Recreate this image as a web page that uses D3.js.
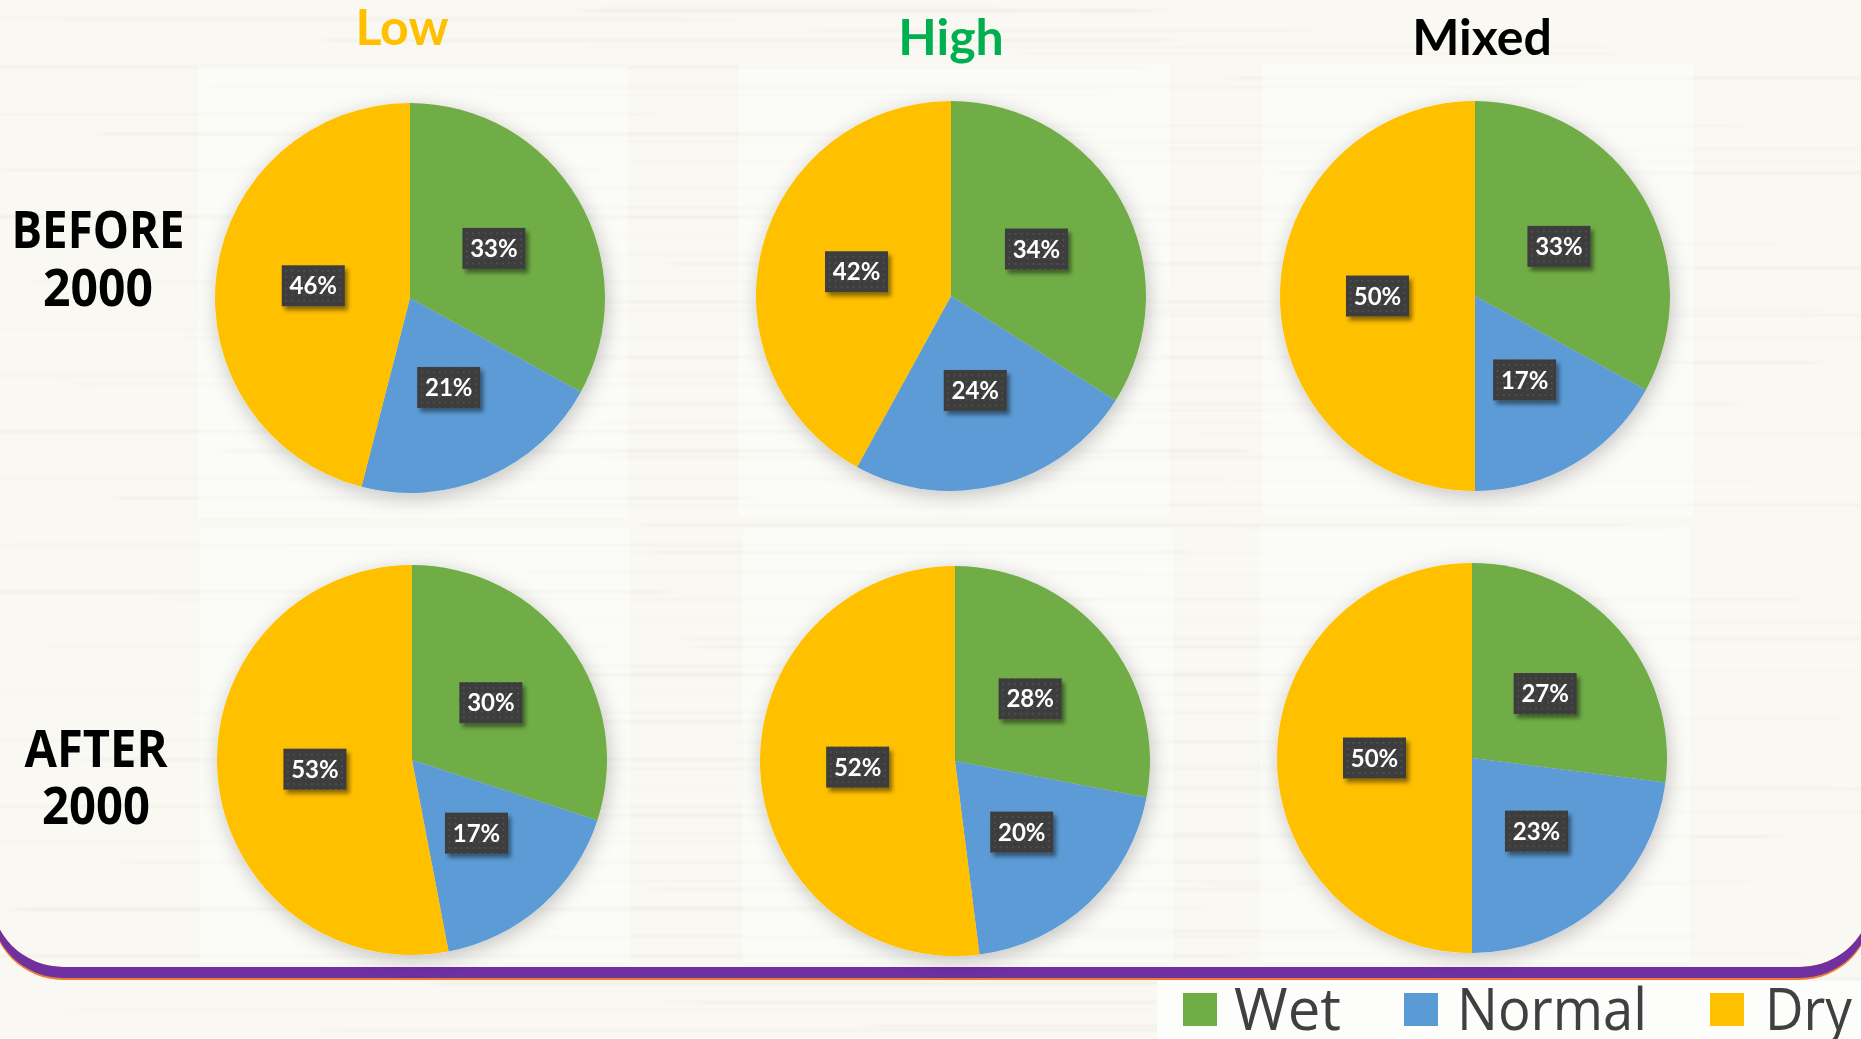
<!DOCTYPE html>
<html>
<head>
<meta charset="utf-8">
<script src="https://cdn.jsdelivr.net/npm/d3@7"></script>
<style>
  html, body { margin: 0; padding: 0; background: #f9f8f3; overflow: hidden; }
  svg { display: block; }
</style>
</head>
<body>
<svg id="chart" width="1861" height="1039"></svg>
<script>
// ---- data -------------------------------------------------------------
const groups = ["Low", "High", "Mixed"];
const groupColors = ["#FFC000", "#00B050", "#000000"];
const periods = [["BEFORE", "2000"], ["AFTER", "2000"]];
const seriesNames = ["Wet", "Normal", "Dry"];
const seriesColors = ["#70AD47", "#5B9BD5", "#FFC000"];
// percentages per group (Low, High, Mixed), ordered Wet, Normal, Dry
const beforeValues = [[33, 21, 46], [34, 24, 42], [33, 17, 50]];
const afterValues  = [[30, 17, 53], [28, 20, 52], [27, 23, 50]];

// ---- layout -----------------------------------------------------------
const W = 1861, H = 1039;
const pieRadius = 195;
const pieCenters = [
  [[410, 298], [951, 296], [1475, 296]],
  [[412, 760], [955, 761], [1472, 758]]
];
const rowLabelX = [98, 96];
const rowLabelBaselines = [[248, 306], [767, 824]];
const rowLabelWidths = [[173, 110], [143, 108]];
const headerX = [402, 951, 1482];
const headerY = [45, 55, 55];

const svg = d3.select("#chart");
const defs = svg.append("defs");

// soft halo under each pie
const pieShadow = defs.append("filter").attr("id", "pieShadow")
  .attr("x", "-25%").attr("y", "-25%").attr("width", "150%").attr("height", "150%");
pieShadow.append("feDropShadow").attr("dx", 2).attr("dy", 5)
  .attr("stdDeviation", 10).attr("flood-color", "#000").attr("flood-opacity", 0.22);

// small shadow under the value tags
const tagShadow = defs.append("filter").attr("id", "tagShadow")
  .attr("x", "-30%").attr("y", "-30%").attr("width", "160%").attr("height", "170%");
tagShadow.append("feDropShadow").attr("dx", 3).attr("dy", 4)
  .attr("stdDeviation", 2.2).attr("flood-color", "#000").attr("flood-opacity", 0.45);

const streakBlur = defs.append("filter").attr("id", "streakBlur")
  .attr("x", "-10%").attr("y", "-10%").attr("width", "120%").attr("height", "120%");
streakBlur.append("feGaussianBlur").attr("stdDeviation", "8 1.2");

// dotted texture for the value tags
const dots = defs.append("pattern").attr("id", "dots")
  .attr("width", 6).attr("height", 6).attr("patternUnits", "userSpaceOnUse");
dots.append("rect").attr("width", 6).attr("height", 6).attr("fill", "#3c3c3c");
dots.append("circle").attr("cx", 3).attr("cy", 3).attr("r", 0.9).attr("fill", "#575757");

// ---- background with faint wood-grain streaks ---------------------------
svg.append("rect").attr("width", W).attr("height", H).attr("fill", "#f9f8f3");
const grain = svg.append("g").attr("filter", "url(#streakBlur)");
for (let i = 0; i < 70; i++) {
  const y = (i * 15.3 + ((i * 37) % 11)) % H;
  const x0 = ((i * 263) % 900) - 200;
  const len = 500 + ((i * 173) % 900);
  grain.append("rect")
    .attr("x", x0).attr("y", y)
    .attr("width", len).attr("height", 1 + (i % 3))
    .attr("fill", i % 4 === 0 ? "#e6e8d6" : "#e9e7dc")
    .attr("opacity", 0.25 + (i % 5) * 0.07);
}
for (let i = 0; i < 45; i++) {
  const y = (i * 23.7 + 6) % H;
  const x0 = 900 + ((i * 211) % 800) - 300;
  grain.append("rect")
    .attr("x", x0).attr("y", y)
    .attr("width", 400 + ((i * 97) % 700)).attr("height", 1 + (i % 2))
    .attr("fill", "#e8e7da").attr("opacity", 0.3 + (i % 4) * 0.07);
}

// lighter plot areas behind the pies
pieCenters.forEach(row => row.forEach(([cx, cy]) => {
  svg.append("rect")
    .attr("x", cx - 212).attr("y", cy - 232)
    .attr("width", 430).attr("height", Math.min(452, 962 - (cy - 232)))
    .attr("fill", "#ffffff").attr("opacity", 0.4);
}));

// ---- frame: purple band (with orange fringe) along the bottom -------------
function roundedRect(x, y, w, h, r) {
  const p = d3.path();
  p.moveTo(x + r, y);
  p.lineTo(x + w - r, y);
  p.arcTo(x + w, y, x + w, y + r, r);
  p.lineTo(x + w, y + h - r);
  p.arcTo(x + w, y + h, x + w - r, y + h, r);
  p.lineTo(x + r, y + h);
  p.arcTo(x, y + h, x, y + h - r, r);
  p.lineTo(x, y + r);
  p.arcTo(x, y, x + r, y, r);
  p.closePath();
  return p.toString();
}
const frameX = -9, frameW = 1881, frameTop = -200, frameBottom = 967, frameR = 72;
const inner = roundedRect(frameX, frameTop, frameW, frameBottom - frameTop, frameR);
svg.append("path")
  .attr("d", roundedRect(frameX, frameTop + 13, frameW, frameBottom - frameTop, frameR) + inner)
  .attr("fill", "#ED7D31").attr("fill-rule", "evenodd");
svg.append("path")
  .attr("d", roundedRect(frameX, frameTop + 11, frameW, frameBottom - frameTop, frameR) + inner)
  .attr("fill", "#7030A0").attr("fill-rule", "evenodd");

// ---- headers -------------------------------------------------------------
svg.append("g").selectAll("text").data(groups).join("text")
  .attr("x", (d, i) => headerX[i]).attr("y", (d, i) => headerY[i])
  .attr("text-anchor", "middle")
  .attr("font-family", "Lato, 'Open Sans', sans-serif")
  .attr("font-weight", 700).attr("font-size", 50)
  .attr("fill", (d, i) => groupColors[i])
  .text(d => d);

// ---- row labels (two lines in one text block) ----------------------------
periods.forEach((lines, r) => {
  const t = svg.append("text")
    .attr("text-anchor", "middle")
    .attr("font-family", "'Open Sans', sans-serif")
    .attr("font-weight", 700).attr("font-size", 52)
    .attr("fill", "#000");
  lines.forEach((line, k) => {
    t.append("tspan")
      .attr("x", rowLabelX[r]).attr("y", rowLabelBaselines[r][k])
      .attr("textLength", rowLabelWidths[r][k])
      .attr("lengthAdjust", "spacingAndGlyphs")
      .text(line);
  });
});

// ---- pies ----------------------------------------------------------------
const pie = d3.pie().sort(null).value(d => d.value);
const arc = d3.arc().innerRadius(0).outerRadius(pieRadius);
const color = d3.scaleOrdinal().domain(seriesNames).range(seriesColors);

[beforeValues, afterValues].forEach((rowValues, r) => {
  rowValues.forEach((values, c) => {
    const [cx, cy] = pieCenters[r][c];
    const data = seriesNames.map((name, i) => ({ name, value: values[i] }));
    const arcs = pie(data);

    const g = svg.append("g").attr("transform", `translate(${cx},${cy})`);
    g.append("g").attr("filter", "url(#pieShadow)")
      .selectAll("path").data(arcs).join("path")
      .attr("d", arc)
      .attr("fill", d => color(d.data.name));

    const tags = g.selectAll("g.tag").data(arcs).join("g")
      .attr("class", "tag")
      .attr("transform", d => `translate(${arc.centroid(d)})`);
    tags.append("rect")
      .attr("x", -31.5).attr("y", -20.5).attr("width", 63).attr("height", 41)
      .attr("fill", "url(#dots)")
      .attr("filter", "url(#tagShadow)");
    tags.append("text")
      .attr("text-anchor", "middle").attr("dy", "0.36em")
      .attr("font-family", "Lato, 'Open Sans', sans-serif")
      .attr("font-weight", 700).attr("font-size", 24)
      .attr("fill", "#ffffff")
      .text(d => `${d.data.value}%`);
  });
});

// ---- legend --------------------------------------------------------------
svg.append("rect").attr("x", 1157).attr("y", 981).attr("width", W - 1157).attr("height", 58)
  .attr("fill", "#fdfdfb");
const legendSwatchX = [1183, 1404, 1710];
const legendTextX = [1234, 1457, 1765];
const legendTextW = [107, 190, 87];
const legend = svg.append("g").selectAll("g").data(seriesNames).join("g");
legend.append("rect")
  .attr("x", (d, i) => legendSwatchX[i]).attr("y", 993)
  .attr("width", 34).attr("height", 33)
  .attr("fill", d => color(d));
legend.append("text")
  .attr("x", (d, i) => legendTextX[i]).attr("y", 1030)
  .attr("font-family", "'Open Sans', sans-serif")
  .attr("font-size", 58)
  .attr("textLength", (d, i) => legendTextW[i])
  .attr("lengthAdjust", "spacingAndGlyphs")
  .attr("fill", "#404040")
  .text(d => d);
</script>
</body>
</html>
